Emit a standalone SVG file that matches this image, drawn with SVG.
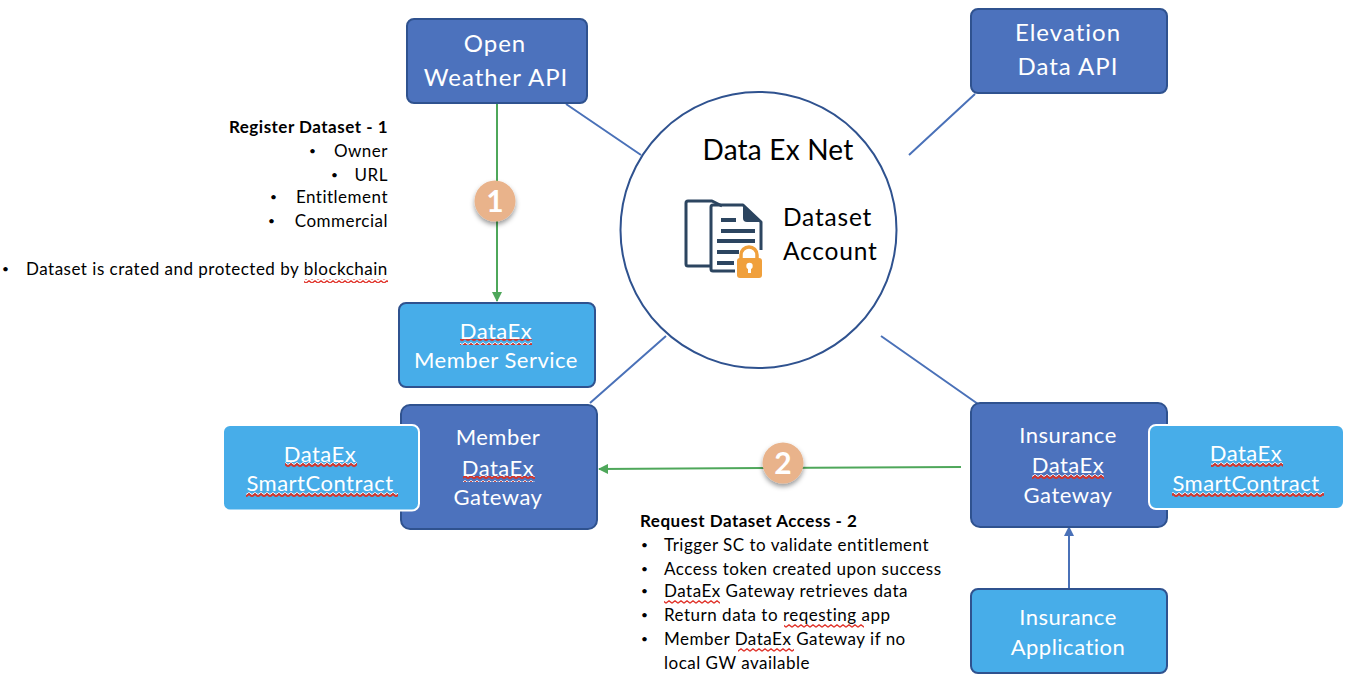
<svg xmlns="http://www.w3.org/2000/svg" width="1356" height="686" viewBox="0 0 1356 686">
<style>
text{font-family:Lato,"Open Sans","Liberation Sans",sans-serif}
.dk{fill:#4c72bd;stroke:#2f528f;stroke-width:2}
.lt{fill:#47ade9;stroke:#2f528f;stroke-width:2}
.sc{fill:#47ade9;stroke:#fff;stroke-width:2}
.w{fill:#fff;font-size:24px;text-anchor:middle;letter-spacing:1px}
.w2{fill:#fff;font-size:22px;text-anchor:middle;letter-spacing:.5px}
.k{fill:#000;font-size:17px;letter-spacing:.5px}
.p{fill:#000;font-size:12px}
.b{font-weight:700}
.e{text-anchor:end}
.link{stroke:#4a71b8;stroke-width:2;fill:none}
.g{stroke:#4ea75a;stroke-width:2;fill:none}
.badge{fill:#e9b38b;filter:url(#sh)}
.bt{fill:#fff;font-size:30px;font-weight:700;text-anchor:middle}
.ic{fill:none;stroke:#2c4560;stroke-width:3;stroke-linejoin:round}
.bar{fill:#2c4560}
</style>
<defs>
<marker id="ag" markerWidth="10" markerHeight="10" refX="9" refY="5" orient="auto" markerUnits="userSpaceOnUse"><path d="M0 0L10 5L0 10Z" fill="#4ea75a"/></marker>
<marker id="ab" markerWidth="10" markerHeight="10" refX="9" refY="5" orient="auto" markerUnits="userSpaceOnUse"><path d="M0 0L10 5L0 10Z" fill="#4a71b8"/></marker>
<filter id="sh" x="-30%" y="-30%" width="160%" height="170%"><feDropShadow dx="0" dy="3" stdDeviation="2.5" flood-color="#000" flood-opacity=".4"/></filter>
<pattern id="zr" width="6" height="4" patternUnits="userSpaceOnUse"><path d="M0 3.200L3 .8L6 3.200" fill="none" stroke="#e0342b" stroke-width="1.300"/></pattern>
<pattern id="zw" width="6" height="6" patternUnits="userSpaceOnUse"><path d="M0 2.500L3 .5L6 2.500" fill="none" stroke="#fff" stroke-width="1"/><path d="M0 4.500L3 2L6 4.500" fill="none" stroke="#d5342a" stroke-width="2"/></pattern>
</defs>

<g id="connectors">
<path class="link" d="M566 104L641 155M975 94L909 155M590 403L666 336M881 336L978 404"/>
<path class="g" d="M497 104V301" marker-end="url(#ag)"/>
<path class="g" d="M961 467L599 469" marker-end="url(#ag)"/>
<path class="link" d="M1069 589V527" marker-end="url(#ab)"/>
</g>

<g id="hub">
<circle cx="758.500" cy="230" r="138" fill="#fff" stroke="#2f528f" stroke-width="2"/>
<text x="778" y="160" text-anchor="middle" font-size="28" letter-spacing=".2">Data Ex Net</text>
<text x="783" y="226" font-size="24.500" letter-spacing=".8">Dataset</text>
<text x="783" y="260" font-size="24.500" letter-spacing=".8">Account</text>
<path class="ic" d="M710 266H688Q686 266 686 264V203Q686 201 688 201H712L722 206"/>
<path class="ic" d="M761 250V222L743 205H713Q711 205 711 207V269Q711 271 713 271H735"/>
<path class="bar" d="M743 205L761 222H747Q743 222 743 218Z"/>
<path class="bar" d="M721 218h15v4h-15zM721 229h34v4h-34zM717 239h38v4h-38zM717 250h22v4h-22zM717 261h17v4h-17z"/>
<path d="M741 260v-5a8 8 0 0 1 16 0v5" fill="none" stroke="#f0a03c" stroke-width="3.500"/>
<rect x="737" y="258" width="25" height="20" rx="3" fill="#f0a03c"/>
<circle cx="749.500" cy="266" r="3.200" fill="#fff"/><rect x="748" y="266" width="3" height="7" fill="#fff"/>
</g>

<g id="open-weather">
<rect class="dk" x="407" y="19" width="180" height="84" rx="7"/>
<text class="w" x="495" y="52">Open</text><text class="w" x="496" y="86">Weather API</text>
</g>
<g id="elevation">
<rect class="dk" x="971" y="9" width="196" height="84" rx="7"/>
<text class="w" x="1068" y="41">Elevation</text><text class="w" x="1068" y="75">Data API</text>
</g>
<g id="member-service">
<rect class="lt" x="399" y="303" width="196" height="84" rx="7"/>
<text class="w2" x="496" y="339">DataEx</text><text class="w2" x="496" y="368">Member Service</text>
<rect x="460" y="339" width="72" height="6" fill="url(#zw)"/>
</g>
<g id="member-gateway">
<rect class="dk" x="401" y="405" width="196" height="124" rx="9"/>
<text class="w2" x="498" y="445">Member</text><text class="w2" x="498" y="476">DataEx</text><text class="w2" x="498" y="505">Gateway</text>
<rect x="463" y="476" width="72" height="6" fill="url(#zw)"/>
</g>
<g id="smartcontract-left">
<rect class="sc" x="223" y="425" width="196" height="85.500" rx="7"/>
<text class="w2" x="320" y="462">DataEx</text><text class="w2" x="320" y="491">SmartContract</text>
<rect x="285" y="462" width="72" height="6" fill="url(#zw)"/><rect x="246" y="491" width="152" height="6" fill="url(#zw)"/>
</g>
<g id="insurance-gateway">
<rect class="dk" x="971" y="403" width="196" height="124" rx="9"/>
<text class="w2" x="1068" y="443">Insurance</text><text class="w2" x="1068" y="473">DataEx</text><text class="w2" x="1068" y="503">Gateway</text>
<rect x="1032" y="473" width="72" height="6" fill="url(#zw)"/>
</g>
<g id="smartcontract-right">
<rect class="sc" x="1149" y="425" width="195" height="84" rx="7"/>
<text class="w2" x="1246" y="461">DataEx</text><text class="w2" x="1246" y="491">SmartContract</text>
<rect x="1211" y="461" width="72" height="6" fill="url(#zw)"/><rect x="1172" y="491" width="152" height="6" fill="url(#zw)"/>
</g>
<g id="insurance-app">
<rect class="lt" x="971" y="589" width="196" height="84" rx="7"/>
<text class="w2" x="1068" y="625">Insurance</text><text class="w2" x="1068" y="655">Application</text>
</g>

<g id="badge-1"><circle class="badge" cx="495" cy="201" r="20.500"/><text class="bt" x="495" y="212">1</text></g>
<g id="badge-2"><circle class="badge" cx="783" cy="463" r="20.500"/><text class="bt" x="783" y="474">2</text></g>

<g id="note-register">
<text class="k b e" x="388" y="133">Register Dataset - 1</text>
<text class="p" x="309" y="155">•</text><text class="k e" x="388" y="157">Owner</text>
<text class="p" x="331" y="179">•</text><text class="k e" x="388" y="181">URL</text>
<text class="p" x="270" y="201">•</text><text class="k e" x="388" y="203">Entitlement</text>
<text class="p" x="268" y="225">•</text><text class="k e" x="388" y="227">Commercial</text>
<text class="p" x="2" y="273">•</text><text class="k" x="26" y="275">Dataset is crated and protected by blockchain</text>
<rect x="304" y="279" width="84" height="4" fill="url(#zr)"/>
</g>
<g id="note-request">
<text class="k b" x="640" y="527">Request Dataset Access - 2</text>
<text class="p" x="641" y="549">•</text><text class="k" x="664" y="551">Trigger SC to validate entitlement</text>
<text class="p" x="641" y="573">•</text><text class="k" x="664" y="575">Access token created upon success</text>
<text class="p" x="641" y="595">•</text><text class="k" x="664" y="597">DataEx Gateway retrieves data</text>
<text class="p" x="641" y="619">•</text><text class="k" x="664" y="621">Return data to reqesting app</text>
<text class="p" x="641" y="643">•</text><text class="k" x="664" y="645">Member DataEx Gateway if no</text>
<text class="k" x="664" y="669">local GW available</text>
<rect x="664" y="600" width="56" height="4" fill="url(#zr)"/><rect x="784" y="624" width="80" height="4" fill="url(#zr)"/><rect x="738" y="648" width="56" height="4" fill="url(#zr)"/>
</g>
</svg>
